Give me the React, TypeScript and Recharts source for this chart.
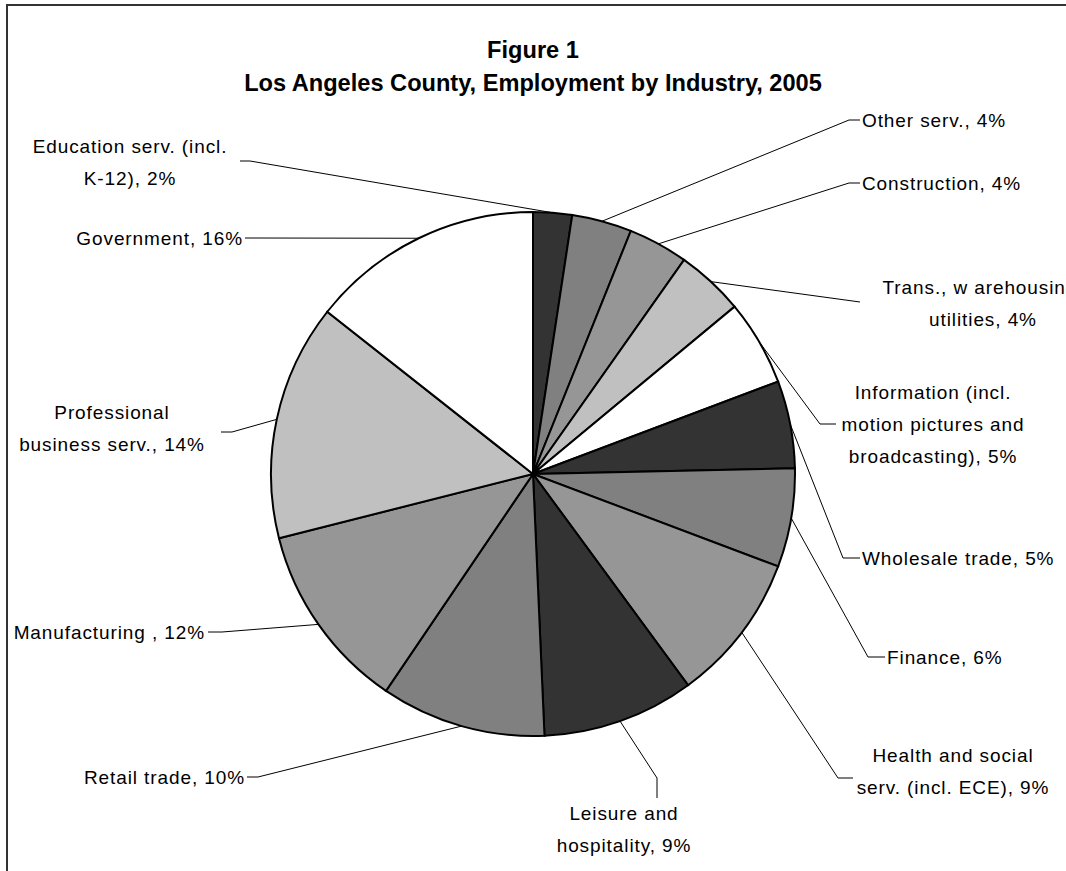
import { PieChart, Pie, Cell } from "recharts";

// Slices clockwise from 12 o'clock (shares)
const industries = [
  "Education serv.",
  "Other serv.",
  "Construction",
  "Trans., warehousing, utilities",
  "Information",
  "Wholesale trade",
  "Finance",
  "Health and social serv.",
  "Leisure and hospitality",
  "Retail trade",
  "Manufacturing",
  "Professional business serv.",
  "Government",
];
const shares = [2.4, 3.7, 3.7, 4.2, 5.3, 5.4, 6.1, 9.2, 9.4, 10.2, 11.6, 14.6, 14.4];

// Label text as printed on the chart
const labelText = [
  ["Education serv. (incl.", "K-12), 2%"],
  ["Other serv., 4%"],
  ["Construction, 4%"],
  ["Trans., w arehousing,", "utilities, 4%"],
  ["Information (incl.", "motion pictures and", "broadcasting), 5%"],
  ["Wholesale trade, 5%"],
  ["Finance, 6%"],
  ["Health and social", "serv. (incl. ECE), 9%"],
  ["Leisure and", "hospitality, 9%"],
  ["Retail trade, 10%"],
  ["Manufacturing , 12%"],
  ["Professional", "business serv., 14%"],
  ["Government, 16%"],
];

const fills = [
  "#333333", "#808080", "#969696", "#c0c0c0", "#ffffff",
  "#333333", "#808080", "#969696", "#333333", "#808080",
  "#969696", "#c0c0c0", "#ffffff",
];

// hand-placed label layout (Excel style): text anchor, leader elbow, stub end
type Lay = { tx: number; ty: number; anchor: "start" | "middle" | "end"; ex: number; ey: number; sx: number; sy: number };
const layout: Lay[] = [
  { tx: 130, ty: 146, anchor: "middle", ex: 250, ey: 161, sx: 240, sy: 161 },
  { tx: 862, ty: 120, anchor: "start", ex: 849, ey: 120, sx: 860, sy: 120 },
  { tx: 862, ty: 183, anchor: "start", ex: 849, ey: 183, sx: 860, sy: 183 },
  { tx: 983, ty: 287, anchor: "middle", ex: 860, ey: 302, sx: 860, sy: 302 },
  { tx: 933, ty: 392, anchor: "middle", ex: 820, ey: 424, sx: 836, sy: 424 },
  { tx: 862, ty: 558, anchor: "start", ex: 843, ey: 558, sx: 860, sy: 558 },
  { tx: 887, ty: 657, anchor: "start", ex: 868, ey: 657, sx: 885, sy: 657 },
  { tx: 953, ty: 755, anchor: "middle", ex: 838, ey: 778, sx: 853, sy: 778 },
  { tx: 624, ty: 813, anchor: "middle", ex: 657, ey: 778, sx: 657, sy: 798 },
  { tx: 245, ty: 777, anchor: "end", ex: 258, ey: 777, sx: 247, sy: 777 },
  { tx: 205, ty: 632, anchor: "end", ex: 222, ey: 632, sx: 208, sy: 632 },
  { tx: 112, ty: 412, anchor: "middle", ex: 232, ey: 432, sx: 221, sy: 432 },
  { tx: 243, ty: 238, anchor: "end", ex: 245, ey: 238, sx: 245, sy: 238 },
];

const data = industries.map((name, i) => ({ name, value: shares[i] }));

const FONT = "'Liberation Sans', Arial, sans-serif";
const RAD = Math.PI / 180;
const LINE_H = 32;

function renderLabel(props: any) {
  const { cx, cy, midAngle, outerRadius, index } = props;
  const rx = cx + outerRadius * Math.cos(-midAngle * RAD);
  const ry = cy + outerRadius * Math.sin(-midAngle * RAD);
  const l = layout[index];
  const lines = labelText[index];
  return (
    <g key={`lbl-${index}`}>
      <polyline
        points={`${rx},${ry} ${l.ex},${l.ey} ${l.sx},${l.sy}`}
        fill="none"
        stroke="#000"
        strokeWidth={1}
      />
      <text
        x={l.tx}
        y={l.ty}
        textAnchor={l.anchor}
        dominantBaseline="central"
        fontFamily={FONT}
        fontSize={19}
        letterSpacing={0.9}
        fill="#000"
      >
        {lines.map((t, j) => (
          <tspan key={j} x={l.tx} dy={j === 0 ? 0 : LINE_H}>
            {t}
          </tspan>
        ))}
      </text>
    </g>
  );
}

export default function App() {
  return (
    <div style={{ position: "absolute", left: 0, top: 0, width: 1066, height: 871, overflow: "hidden", background: "#fff" }}>
      <div
        style={{
          position: "absolute",
          left: 6,
          top: 4,
          width: 1100,
          height: 900,
          borderLeft: "2px solid #333",
          borderTop: "2px solid #333",
        }}
      />
      <div
        style={{
          position: "absolute",
          left: 0,
          top: 34,
          width: 1066,
          textAlign: "center",
          fontFamily: FONT,
          fontWeight: "bold",
          fontSize: 23.6,
          lineHeight: "33px",
          color: "#000",
        }}
      >
        <div>Figure 1</div>
        <div>Los Angeles County, Employment by Industry, 2005</div>
      </div>
      <div style={{ position: "absolute", left: 0, top: 0 }}>
        <PieChart width={1066} height={871} margin={{ top: 0, right: 0, bottom: 0, left: 0 }}>
          <Pie
            data={data}
            dataKey="value"
            nameKey="name"
            cx={533}
            cy={474}
            outerRadius={262}
            startAngle={90}
            endAngle={-270}
            stroke="#000"
            strokeWidth={2}
            label={renderLabel}
            labelLine={false}
            isAnimationActive={false}
          >
            {data.map((d, i) => (
              <Cell key={d.name} fill={fills[i]} />
            ))}
          </Pie>
        </PieChart>
      </div>
    </div>
  );
}
